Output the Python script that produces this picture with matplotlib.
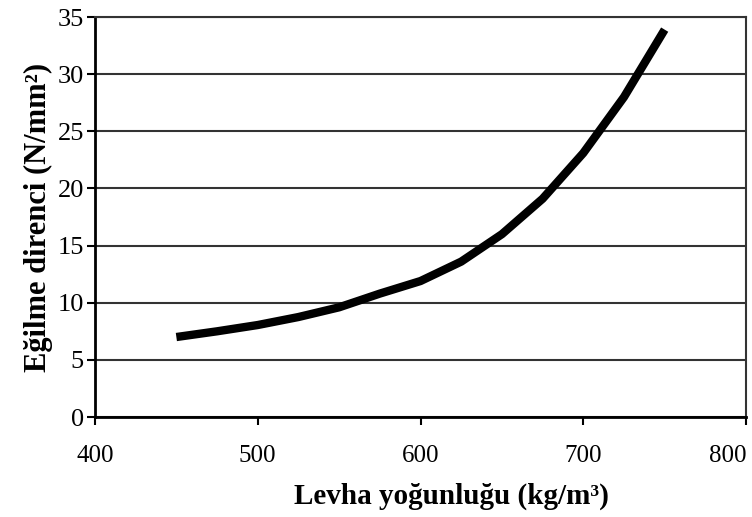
import numpy as np
import matplotlib.pyplot as plt

# Board density vs bending strength
density = [450, 475, 500, 525, 550, 575, 600, 625, 650, 675, 700, 725, 750]
strength = [7.0, 7.5, 8.05, 8.75, 9.6, 10.8, 11.9, 13.6, 16.0, 19.1, 23.1, 28.0, 33.9]

x_ticks = [400, 500, 600, 700, 800]
y_ticks = [0, 5, 10, 15, 20, 25, 30, 35]

fig = plt.figure(figsize=(7.52, 5.17), dpi=100)
ax = fig.add_axes([0.1263, 0.1934, 0.8658, 0.7736])

ax.plot(density, strength, color='black', linewidth=6, solid_capstyle='butt', zorder=3)

ax.set_xlim(400, 800)
ax.set_ylim(0, 35)
ax.set_xticks(x_ticks)
ax.set_yticks(y_ticks)
ax.set_xticklabels([str(t) for t in x_ticks], family='Liberation Serif', fontsize=18)
ax.set_yticklabels([str(t) for t in y_ticks], family='Liberation Serif', fontsize=19)
ax.get_xticklabels()[-1].set_horizontalalignment('right')
ax.tick_params(axis='x', direction='out', length=6, width=1.5, pad=14)
ax.tick_params(axis='y', direction='out', length=6, width=1.5, pad=2)

ax.grid(True, axis='y', color='#333333', linewidth=1.5)
ax.set_axisbelow(True)
for side in ['left', 'bottom']:
    ax.spines[side].set_linewidth(2)
    ax.spines[side].set_color('black')
for side in ['top', 'right']:
    ax.spines[side].set_linewidth(1.5)
    ax.spines[side].set_color('#333333')

ax.set_xlabel('Levha yoğunluğu (kg/m³)', family='Liberation Serif',
              fontweight='bold', fontsize=21)
ax.xaxis.set_label_coords(0.547, -0.165)
ax.set_ylabel('Eğilme direnci (N/mm²)', family='Liberation Serif',
              fontweight='bold', fontsize=22, labelpad=3)

fig.savefig('out.png', dpi=100)
